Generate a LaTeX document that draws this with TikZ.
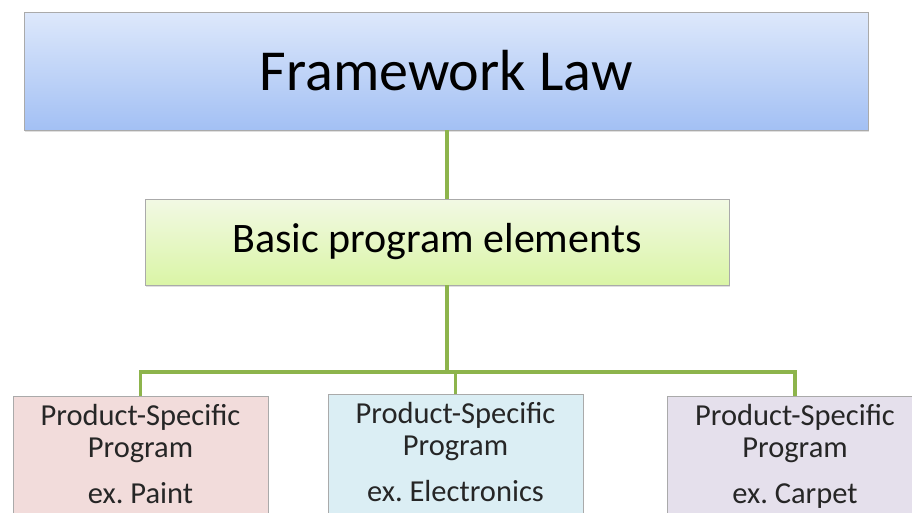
\documentclass[tikz,border=0pt]{standalone}
\usepackage{fontspec}
\setmainfont{Carlito}
\frenchspacing
\usetikzlibrary{shadows}
\definecolor{linegreen}{RGB}{141,180,76}
\definecolor{boxborder}{RGB}{170,170,170}
\definecolor{blueTop}{RGB}{221,232,251}
\definecolor{blueBot}{RGB}{163,192,244}
\definecolor{greenTop}{RGB}{242,249,228}
\definecolor{greenBot}{RGB}{218,245,166}
\definecolor{pinkfill}{RGB}{242,220,219}
\definecolor{cyanfill}{RGB}{219,238,244}
\definecolor{lavfill}{RGB}{229,224,236}
\tikzset{
  boxshape/.style={draw=boxborder, line width=0.8pt, rectangle, inner sep=0pt,
    drop shadow={opacity=0.25, shadow xshift=1pt, shadow yshift=-2pt}},
  prodbox/.style={boxshape, minimum width=255pt, minimum height=140pt, anchor=north},
  prodtext/.style={anchor=north, align=center, font=\fontsize{30.5}{32}\selectfont, inner sep=0pt, text=black!85},
  conn/.style={draw=linegreen, line width=3.2pt}
}
\begin{document}
\begin{tikzpicture}[x=1pt,y=1pt]
\useasboundingbox (0,0) rectangle (912,-512);
\clip (0,0) rectangle (912,-512);
\fill[white] (0,0) rectangle (912,-512);
% top box
\node[boxshape, top color=blueTop, bottom color=blueBot, minimum width=844pt, minimum height=118pt,
  font=\fontsize{58}{64}\selectfont] (law) at (446,-71) {Framework Law};
% middle box
\node[boxshape, top color=greenTop, bottom color=greenBot, minimum width=584pt, minimum height=86pt,
  font=\fontsize{42}{46}\selectfont] (basic) at (437,-242) {Basic program elements};
% product boxes
\node[prodbox, fill=pinkfill] (p1) at (140.5,-396) {};
\node[prodbox, fill=cyanfill] (p2) at (455.5,-394) {};
\node[prodbox, fill=lavfill] (p3) at (795,-396) {};
\node[prodtext] (t1) at ([yshift=-8.5pt]p1.north) {Product-Specific\\Program\\[14pt]ex. Paint};
\node[prodtext] (t2) at ([yshift=-8.5pt]p2.north) {Product-Specific\\Program\\[14pt]ex. Electronics};
\node[prodtext] (t3) at ([yshift=-8.5pt]p3.north) {Product-Specific\\Program\\[14pt]ex. Carpet};
% connectors
\coordinate (bar) at (447,-372);
\draw[conn] ([xshift=1pt]law.south) -- ([xshift=10pt]basic.north);
\draw[conn] ([xshift=10pt]basic.south) -- (bar);
\draw[conn] (p1.north) |- (bar);
\draw[conn] (p3.north) |- (bar);
\draw[conn] (p2.north) -- ([xshift=8.5pt]bar);
\end{tikzpicture}
\end{document}
